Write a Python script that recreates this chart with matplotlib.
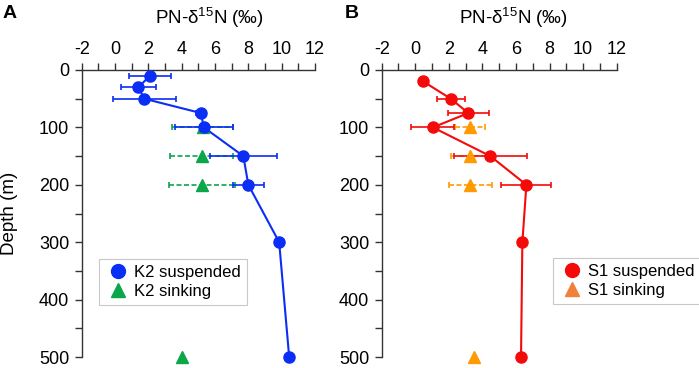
import matplotlib
matplotlib.use("Agg")
import matplotlib.pyplot as plt
import numpy as np

plt.rcParams['font.family'] = ['Liberation Sans', 'DejaVu Sans']
plt.rcParams['mathtext.fontset'] = 'custom'
plt.rcParams['mathtext.rm'] = 'Liberation Sans'
plt.rcParams['mathtext.it'] = 'Liberation Sans:italic'
plt.rcParams['mathtext.bf'] = 'Liberation Sans:bold'

# ---- data ----
k2_susp_depth = [10, 30, 50, 75, 100, 150, 200, 300, 500]
k2_susp_d15n = [2.1, 1.4, 1.75, 5.15, 5.33, 7.7, 8.0, 9.85, 10.45]
k2_susp_err = [1.25, 1.05, 1.9, 0.3, 1.73, 2.0, 0.95, 0, 0]

k2_sink_depth = [100, 150, 200, 500]
k2_sink_d15n = [5.25, 5.2, 5.22, 4.0]
k2_sink_err = [1.85, 1.9, 2.0, 0]

s1_susp_depth = [20, 50, 75, 100, 150, 200, 300, 500]
s1_susp_d15n = [0.48, 2.11, 3.16, 1.05, 4.47, 6.62, 6.38, 6.3]
s1_susp_err = [0, 0.84, 1.21, 1.28, 2.18, 1.49, 0, 0]

s1_sink_depth = [100, 150, 200, 500]
s1_sink_d15n = [3.27, 3.27, 3.27, 3.52]
s1_sink_err = [0.9, 1.13, 1.28, 0]

xticks = [-2, 0, 2, 4, 6, 8, 10, 12]
yticks = [0, 100, 200, 300, 400, 500]

BLUE = '#0a2ef5'
GREEN = '#0aa64a'
RED = '#f50a0a'
ORANGE = '#ff9a00'
ORANGE_LEG = '#f0803a'

W, H = 699, 368
TOP, BOTTOM = 70, 357
fig = plt.figure(figsize=(W / 100, H / 100), dpi=100)


def make_ax(left, right):
    ax = fig.add_axes([left / W, (H - BOTTOM) / H, (right - left) / W, (BOTTOM - TOP) / H])
    ax.set_xlim(-2, 12)
    ax.set_ylim(500, 0)
    ax.xaxis.tick_top()
    ax.set_xticks(xticks)
    ax.set_xticklabels([str(t) for t in xticks])
    ax.set_xticks(np.arange(-2, 12.5, 1), minor=True)
    ax.set_yticks(yticks)
    ax.set_yticks(np.arange(0, 501, 50), minor=True)
    for s in ['right', 'bottom']:
        ax.spines[s].set_visible(False)
    for s in ['top', 'left']:
        ax.spines[s].set_color('#333333')
        ax.spines[s].set_linewidth(1.0)
    ax.tick_params(which='both', direction='out', length=5, width=1.0, color='#333333',
                   labelsize=13, pad=4)
    ax.tick_params(axis='x', which='both', top=True, bottom=False, labeltop=True, labelbottom=False)
    ax.patch.set_alpha(0)
    return ax


def draw(ax, sd, sv, se, kd, kv, ke, c_susp, c_sink, c_sink_leg):
    # sinking error bars (dashed)
    kd_a, kv_a, ke_a = map(np.array, (kd, kv, ke))
    m = ke_a > 0
    eb = ax.errorbar(kv_a[m], kd_a[m], xerr=ke_a[m], fmt='none', ecolor=c_sink,
                     elinewidth=1.2, capsize=2.2, capthick=1.2, clip_on=False, zorder=2)
    for lc in eb[2]:
        lc.set_linestyle((0, (3, 1.5)))
    # suspended error bars (solid)
    sd_a, sv_a, se_a = map(np.array, (sd, sv, se))
    m = se_a > 0
    ax.errorbar(sv_a[m], sd_a[m], xerr=se_a[m], fmt='none', ecolor=c_susp,
                elinewidth=1.2, capsize=2.2, capthick=1.2, clip_on=False, zorder=3)
    ax.plot(sv, sd, '-', color=c_susp, lw=1.5, zorder=4, clip_on=False)
    ax.plot(sv, sd, 'o', color=c_susp, ms=8, zorder=5, clip_on=False)
    ax.plot(kv, kd, '^', color=c_sink, ms=8.5, zorder=4.5, clip_on=False, linestyle='none')
    h1 = plt.Line2D([], [], marker='o', color=c_susp, ms=10, linestyle='none')
    h2 = plt.Line2D([], [], marker='^', color=c_sink_leg, ms=10, linestyle='none')
    return h1, h2


axA = make_ax(81.7, 315)
axB = make_ax(381.7, 616.7)

leg_kw = dict(loc='upper left', fontsize=12, frameon=True, fancybox=False, edgecolor='#bbbbbb',
              borderpad=0.35, handletextpad=0.15, labelspacing=0.25, handlelength=1.6,
              borderaxespad=0)

h1, h2 = draw(axA, k2_susp_depth, k2_susp_d15n, k2_susp_err,
              k2_sink_depth, k2_sink_d15n, k2_sink_err, BLUE, GREEN, GREEN)
legA = axA.legend([h1, h2], ['K2 suspended', 'K2 sinking'],
                  bbox_to_anchor=((99 - 81.7) / (315 - 81.7), (BOTTOM - 259) / (BOTTOM - TOP)), **leg_kw)
legA.get_frame().set_linewidth(0.8)

h1, h2 = draw(axB, s1_susp_depth, s1_susp_d15n, s1_susp_err,
              s1_sink_depth, s1_sink_d15n, s1_sink_err, RED, ORANGE, ORANGE_LEG)
legB = axB.legend([h1, h2], ['S1 suspended', 'S1 sinking'],
                  bbox_to_anchor=((553 - 381.7) / (616.7 - 381.7), (BOTTOM - 258) / (BOTTOM - TOP)), **leg_kw)
legB.get_frame().set_linewidth(0.8)

xlabel = 'PN-δ$^{15}$N (‰)'
fig.text(209.5 / W, 1 - 18 / H, xlabel, ha='center', va='center', fontsize=13.5)
fig.text(513 / W, 1 - 18 / H, xlabel, ha='center', va='center', fontsize=13.5)
fig.text(10 / W, 1 - 213 / H, 'Depth (m)', ha='center', va='center', rotation=90, fontsize=13.5)
fig.text(3 / W, 1 - 13 / H, 'A', ha='left', va='center', fontsize=14, fontweight='bold')
fig.text(345 / W, 1 - 13 / H, 'B', ha='left', va='center', fontsize=14, fontweight='bold')

fig.savefig('out.png', dpi=100)
